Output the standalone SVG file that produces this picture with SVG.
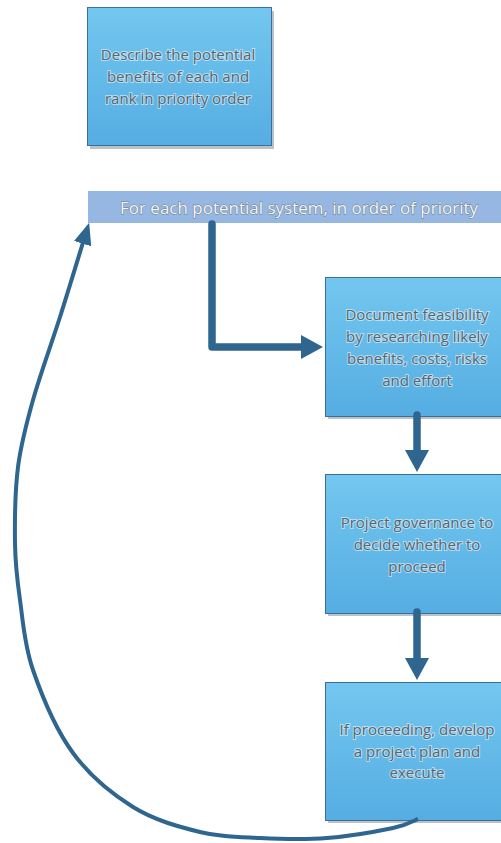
<svg xmlns="http://www.w3.org/2000/svg" width="501" height="843" viewBox="0 0 501 843">
  <defs>
    <linearGradient id="boxFill" x1="0" y1="0" x2="0" y2="1">
      <stop offset="0" stop-color="#73c7ef"/>
      <stop offset="1" stop-color="#55ade2"/>
    </linearGradient>
    <marker id="headBig" markerUnits="userSpaceOnUse" viewBox="0 0 22 24" markerWidth="22" markerHeight="24" refX="10" refY="12" orient="auto">
      <path d="M0,0 L22,12 L0,24 Z" fill="#2e6690"/>
    </marker>
    <marker id="headCurve" markerUnits="userSpaceOnUse" viewBox="0 0 22 18" markerWidth="22" markerHeight="18" refX="8" refY="9" orient="auto">
      <path d="M0,0 L22,9 L0,18 Z" fill="#2e6690"/>
    </marker>
  </defs>
  <style>
    .box { fill: url(#boxFill); stroke: #3d6e98; stroke-width: 1; }
    .shadow { fill: #7f8f9c; opacity: 0.55; }
    .label { font-family: "Open Sans", "Liberation Sans", sans-serif; font-size: 15px; fill: #58646d; text-anchor: middle; stroke: #ffffff; stroke-width: 2; stroke-opacity: 0.55; paint-order: stroke; }
    .banner-label { font-family: "Open Sans", "Liberation Sans", sans-serif; font-size: 17px; fill: #f3f6f9; text-anchor: middle; stroke: #6a7681; stroke-width: 0.9; paint-order: stroke; }
    .conn { fill: none; stroke: #2e6690; stroke-width: 7.5; stroke-linecap: round; stroke-linejoin: round; }
    .loop { fill: none; stroke: #2e6690; stroke-width: 4; }
  </style>

  <g id="node-describe">
    <rect class="shadow" x="90" y="11" width="184" height="138"/>
    <rect class="box" x="87.5" y="7.5" width="184" height="138"/>
    <text class="label" x="178" y="60">Describe the potential</text>
    <text class="label" x="178" y="82">benefits of each and</text>
    <text class="label" x="178" y="104">rank in priority order</text>
  </g>

  <g id="node-banner">
    <rect x="88" y="191" width="413" height="32" fill="#95b7e2"/>
    <text class="banner-label" x="299" y="214">For each potential system, in order of priority</text>
  </g>

  <g id="node-feasibility">
    <rect class="shadow" x="328" y="280" width="184" height="139"/>
    <rect class="box" x="325.5" y="277.5" width="184" height="139"/>
    <text class="label" x="417" y="320">Document feasibility</text>
    <text class="label" x="417" y="342">by researching likely</text>
    <text class="label" x="417" y="364">benefits, costs, risks</text>
    <text class="label" x="417" y="386">and effort</text>
  </g>

  <g id="node-governance">
    <rect class="shadow" x="328" y="477" width="184" height="139"/>
    <rect class="box" x="325.5" y="474.5" width="184" height="139"/>
    <text class="label" x="417" y="528">Project governance to</text>
    <text class="label" x="417" y="550">decide whether to</text>
    <text class="label" x="417" y="572">proceed</text>
  </g>

  <g id="node-execute">
    <rect class="shadow" x="328" y="685" width="184" height="138"/>
    <rect class="box" x="325.5" y="682.5" width="184" height="138"/>
    <text class="label" x="417" y="735">If proceeding, develop</text>
    <text class="label" x="417" y="757">a project plan and</text>
    <text class="label" x="417" y="778">execute</text>
  </g>

  <g id="connectors">
    <!-- banner down and across to the feasibility step -->
    <path class="conn" d="M212,224 L212,347 L311,347" marker-end="url(#headBig)"/>
    <!-- step to step -->
    <path class="conn" d="M417,415 L417,460" marker-end="url(#headBig)"/>
    <path class="conn" d="M417,612 L417,668" marker-end="url(#headBig)"/>
    <!-- loop back to the next system -->
    <path class="loop" d="M418,819 C413.8,820.5 408.2,824.8 393,828 C377.8,831.2 349.2,836.3 327,838 C304.8,839.7 281.2,839 260,838 C238.8,837 221.2,837.2 200,832 C178.8,826.8 154.2,820.2 133,807 C111.8,793.8 89.7,775.8 73,753 C56.3,730.2 41.8,695.5 33,670 C24.2,644.5 23,621.2 20,600 C17,578.8 15.3,565.2 15,543 C14.7,520.8 15,490.8 18,467 C21,443.2 26,425 33,400 C40,375 51.3,344.3 60,317 C68.7,289.7 80.8,249.5 85,236" marker-end="url(#headCurve)"/>
  </g>
</svg>
